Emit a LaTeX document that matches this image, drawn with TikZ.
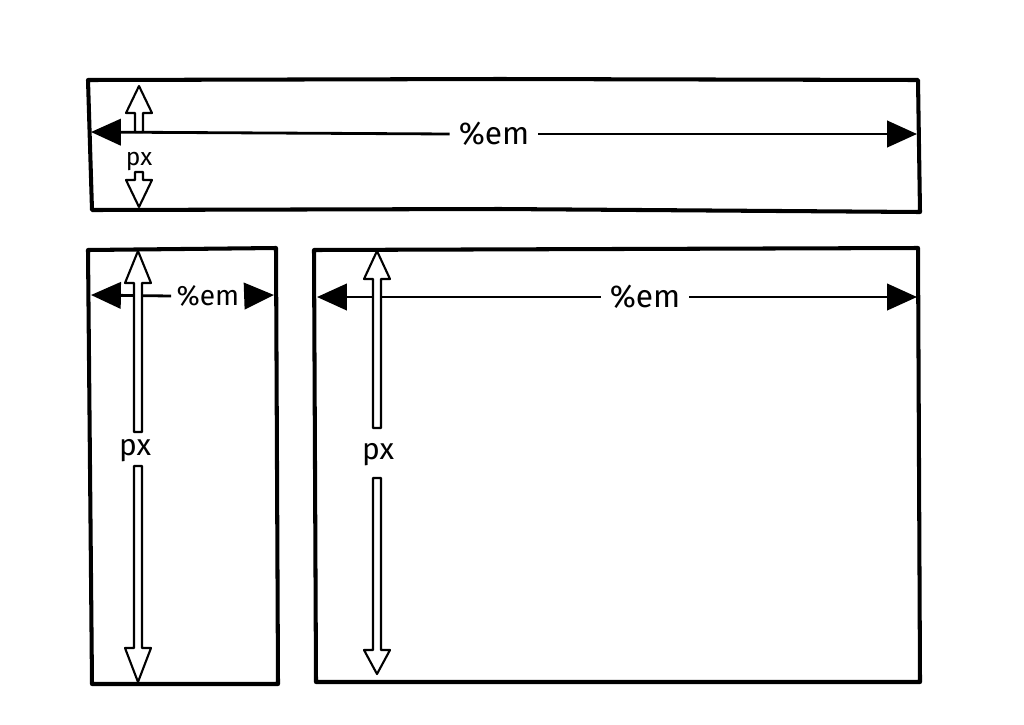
\documentclass[tikz,border=0pt]{standalone}
\usepackage{fontspec}
\setmainfont{Fira Sans}
\usetikzlibrary{arrows.meta}
\newcommand\hollowarr[4]{% x, tip y, head base y, tail y
  \draw[hollow] (#1-4,#4) -- (#1-4,#3) -- (#1-13,#3) -- (#1,#2) -- (#1+13,#3) -- (#1+4,#3) -- (#1+4,#4) -- cycle;}
\begin{document}
\begin{tikzpicture}[x=0.02cm,y=-0.02cm,
  box/.style={line width=2.3pt,line join=round},
  dim/.style={line width=1.6pt,-{Triangle[length=17pt,width=15pt]}},
  hollow/.style={line width=1.2pt,fill=white,line join=round},
  lbl/.style={font=\fontsize{18}{22}\selectfont,inner sep=5pt},
  pxl/.style={font=\fontsize{17}{20}\selectfont,inner sep=1pt}]
\useasboundingbox (0,0) rectangle (1024,724);
% top box
\draw[box] (88,80) -- (500,79) -- (918,80) -- (920,212) -- (500,209) -- (92,210) -- cycle;
\coordinate (a1l) at (91,132);
\coordinate (a1r) at (917,134);
\node[lbl] (l1) at (494,134) {\%em};
\draw[dim] (l1.west) -- (a1l);
\draw[dim] (l1.east) -- (a1r);
\hollowarr{139}{86}{113}{132}
\node[pxl,font=\fontsize{14}{16}\selectfont] (p1) at (139,161) {px};
\hollowarr{139}{207}{180}{172}
% bottom left box
\draw[box] (88,250) -- (276,248) -- (278,684) -- (92,684) -- cycle;
\coordinate (a2l) at (91,295);
\coordinate (a2r) at (274,295);
\node[lbl,font=\fontsize{16}{20}\selectfont,inner sep=3pt] (l2) at (208,296) {\%em};
\draw[dim] (l2.west) -- (a2l);
\draw[dim] (l2.east) -- (a2r);
\hollowarr{138}{251}{283}{432}
\node[pxl] (p2) at (135,451) {px};
\hollowarr{138}{682}{648}{466}
% bottom right box
\draw[box] (314,250) -- (918,248) -- (920,682) -- (316,682) -- cycle;
\coordinate (a3l) at (317,297);
\coordinate (a3r) at (917,297);
\node[lbl] (l3) at (645,297) {\%em};
\draw[dim] (l3.west) -- (a3l);
\draw[dim] (l3.east) -- (a3r);
\hollowarr{377}{251}{279}{428}
\node[pxl] (p3) at (378,455) {px};
\hollowarr{377}{674}{650}{478}
\end{tikzpicture}
\end{document}
